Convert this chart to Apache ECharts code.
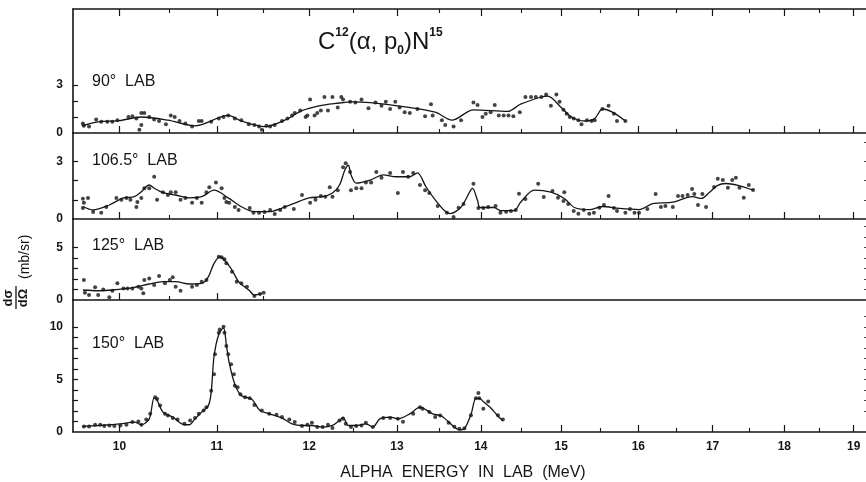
<!DOCTYPE html>
<html><head><meta charset="utf-8">
<script src="https://cdn.jsdelivr.net/npm/echarts@6/dist/echarts.min.js"></script>
<style>html,body{margin:0;padding:0;background:#fff}#c{width:866px;height:482px}</style>
</head><body><div id="c"></div>
<script>
// ---- tick labels / axis values (alpha energy, MeV) ----
const xMajorTicks = [10, 11, 12, 13, 14, 15, 16, 17, 18, 19];
const xMinorTicks = [10.5, 11.5, 12.5, 13.5, 14.5, 15.5, 16.5, 17.5, 18.5];
const xMinE = 9.544, xMaxE = 19.18;
const panelLabels = ['90°  LAB', '106.5°  LAB', '125°  LAB', '150°  LAB'];
const yLabelTicks = [[0, 3], [0, 3], [0, 5], [0, 5, 10]];
const yMinorTicks = [[1, 2, 3], [1, 2, 3], [1, 2, 3, 4, 5], [1, 2, 3, 4, 5, 6, 7, 8, 9, 10]];
const yRightTicks = [[], [1, 2, 3, 4], [1, 2, 3, 4, 5, 6, 7], [2, 3, 4, 5, 6, 7, 8, 9, 10, 11]];

// ---- 90 deg LAB ----
const curve90 = [[9.63,.45],[9.79,.7],[10.0,.77],[10.22,1.0],[10.49,.8],[10.77,.45],[11.12,1.1],[11.26,.75],[11.51,.4],[11.73,.8],[11.92,1.4],[12.11,1.7],[12.30,1.85],[12.49,1.95],[12.69,1.9],[13.07,1.65],[13.45,1.3],[13.65,.8],[13.91,1.45],[14.33,1.35],[14.49,1.8],[14.75,2.25],[14.83,2.3],[15.0,1.6],[15.13,1.0],[15.3,.75],[15.43,.9],[15.53,1.5],[15.66,1.3],[15.83,.75]];
const pts90 = [[9.64,.6],[9.65,.45],[9.70,.4],[9.77,.85],[9.82,.7],[9.88,.7],[9.93,.7],[9.98,.8],[10.09,1.0],[10.13,1.05],[10.17,.9],[10.22,1.25],[10.25,1.25],[10.22,.5],[10.20,.2],[10.30,1.0],[10.35,.85],[10.40,.75],[10.47,.55],[10.52,1.1],[10.56,1.0],[10.61,.75],[10.67,.6],[10.74,.4],[10.81,.75],[10.84,.75],[10.94,.7],[11.02,.9],[11.07,1.0],[11.12,1.1],[11.19,.9],[11.26,.8],[11.34,.55],[11.40,.5],[11.45,.4],[11.48,.2],[11.53,.45],[11.57,.4],[11.62,.5],[11.70,.75],[11.76,.9],[11.81,1.1],[11.84,1.25],[11.90,1.4],[11.96,1.0],[11.98,1.1],[12.01,2.1],[12.06,1.1],[12.09,1.25],[12.13,1.4],[12.17,2.25],[12.21,1.4],[12.26,2.25],[12.32,1.6],[12.36,2.25],[12.38,2.1],[12.46,1.95],[12.52,1.9],[12.59,2.1],[12.67,1.55],[12.75,1.9],[12.82,1.7],[12.87,1.95],[12.92,1.5],[12.98,1.95],[13.03,1.6],[13.09,1.3],[13.15,1.25],[13.24,1.5],[13.33,1.05],[13.40,1.8],[13.42,1.1],[13.53,.8],[13.57,.5],[13.67,.4],[13.76,.8],[13.91,1.9],[13.96,1.75],[14.02,1.0],[14.06,1.2],[14.12,1.3],[14.17,1.75],[14.22,1.1],[14.28,1.1],[14.34,1.1],[14.40,1.05],[14.48,1.3],[14.55,2.25],[14.62,2.25],[14.68,2.25],[14.75,2.25],[14.81,2.4],[14.87,1.7],[14.94,2.4],[14.98,1.95],[15.03,1.45],[15.07,1.2],[15.11,1.0],[15.16,.9],[15.22,.8],[15.26,.55],[15.33,.8],[15.39,.75],[15.43,.8],[15.53,1.5],[15.61,1.7],[15.68,1.2],[15.72,.75],[15.83,.75]];

// ---- 106.5 deg LAB ----
const curve106 = [[9.64,.65],[9.74,.47],[9.90,.73],[10.04,1.1],[10.15,1.16],[10.22,1.42],[10.30,1.77],[10.35,1.6],[10.44,1.37],[10.57,1.25],[10.71,1.1],[10.84,1.16],[10.97,1.5],[11.12,1.1],[11.26,.64],[11.40,.38],[11.56,.38],[11.70,.57],[11.84,.83],[12.00,1.1],[12.15,1.16],[12.26,1.35],[12.34,1.77],[12.40,2.55],[12.44,2.8],[12.47,2.3],[12.53,1.87],[12.69,2.03],[12.84,2.3],[12.99,2.2],[13.15,2.2],[13.24,2.4],[13.34,1.68],[13.45,1.0],[13.57,.4],[13.63,.28],[13.76,.62],[13.88,1.53],[13.90,1.6],[13.96,.96],[13.99,.6],[14.16,.6],[14.24,.44],[14.41,.44],[14.49,.87],[14.66,1.5],[14.87,1.4],[15.04,1.07],[15.17,.6],[15.36,.49],[15.53,.65],[15.75,.55],[16.01,.49],[16.19,.8],[16.46,.88],[16.72,1.17],[16.85,1.07],[16.94,1.33],[17.07,1.75],[17.18,1.85],[17.35,1.75],[17.56,1.5]];
const pts106 = [[9.64,1.05],[9.65,.85],[9.69,1.1],[9.64,.57],[9.74,.37],[9.82,.32],[9.87,.63],[9.97,1.1],[10.02,1.0],[10.07,1.1],[10.11,1.0],[10.17,.63],[10.18,.88],[10.22,1.1],[10.25,1.6],[10.30,1.6],[10.35,2.2],[10.38,1.0],[10.44,1.4],[10.49,1.25],[10.52,1.4],[10.57,1.4],[10.62,1.0],[10.67,1.1],[10.74,.85],[10.79,1.1],[10.84,.85],[10.89,1.4],[10.92,1.65],[10.99,1.9],[11.05,1.6],[11.08,1.1],[11.10,.88],[11.13,.85],[11.19,.63],[11.23,.47],[11.35,.57],[11.39,.32],[11.45,.32],[11.51,.37],[11.57,.47],[11.62,.26],[11.68,.47],[11.73,.63],[11.83,.52],[11.92,1.25],[12.01,.85],[12.07,1.0],[12.13,1.2],[12.18,1.16],[12.23,1.65],[12.26,1.16],[12.32,1.5],[12.38,2.7],[12.41,2.9],[12.46,2.45],[12.47,1.5],[12.53,1.6],[12.59,1.6],[12.64,1.9],[12.70,1.9],[12.76,2.45],[12.82,2.15],[12.92,2.4],[13.01,1.35],[13.07,2.45],[13.13,2.2],[13.19,2.4],[13.27,1.77],[13.33,1.5],[13.38,1.35],[13.48,.68],[13.59,.33],[13.67,.1],[13.73,.59],[13.79,.78],[13.91,1.84],[13.97,.57],[14.03,.57],[14.09,.62],[14.18,.68],[14.24,.33],[14.31,.38],[14.37,.42],[14.43,.47],[14.47,1.32],[14.55,1.04],[14.71,1.84],[14.78,1.15],[14.89,1.46],[14.96,1.11],[15.03,.94],[15.04,1.4],[15.09,.78],[15.16,.42],[15.22,.28],[15.29,.47],[15.36,.28],[15.42,.33],[15.49,.59],[15.55,.73],[15.61,1.2],[15.68,.57],[15.72,.42],[15.83,.33],[15.89,.52],[15.95,.33],[16.01,.33],[16.12,.52],[16.23,1.3],[16.30,.62],[16.36,.68],[16.46,.62],[16.53,1.2],[16.59,1.2],[16.66,1.25],[16.72,1.56],[16.75,1.3],[16.80,.73],[16.86,1.3],[16.91,.62],[17.02,1.67],[17.07,2.1],[17.14,2.03],[17.21,1.63],[17.27,2.03],[17.32,2.15],[17.37,1.63],[17.43,1.11],[17.50,1.77],[17.56,1.51]];

// ---- 125 deg LAB ----
const curve125 = [[9.64,.95],[9.79,.88],[9.93,.95],[10.15,1.2],[10.30,1.52],[10.44,1.74],[10.57,1.74],[10.71,1.52],[10.84,1.58],[10.91,2.2],[10.97,3.48],[11.03,4.1],[11.08,3.8],[11.16,2.85],[11.23,1.74],[11.34,.95],[11.40,.47],[11.48,.63]];
const pts125 = [[9.65,1.9],[9.66,.7],[9.70,.47],[9.76,1.2],[9.79,.47],[9.84,1.0],[9.90,.25],[9.93,.88],[9.98,1.58],[10.04,1.1],[10.08,1.1],[10.13,1.1],[10.19,1.26],[10.22,1.1],[10.24,.63],[10.25,1.9],[10.30,2.05],[10.35,1.42],[10.40,2.28],[10.46,1.58],[10.51,1.9],[10.54,2.15],[10.57,1.26],[10.62,.88],[10.74,1.26],[10.79,1.42],[10.84,1.74],[10.89,1.9],[11.02,4.1],[11.05,4.05],[11.08,3.86],[11.10,3.48],[11.16,2.69],[11.21,1.74],[11.26,1.58],[11.32,1.26],[11.40,.38],[11.46,.57],[11.50,.7]];

// ---- 150 deg LAB ----
const curve150 = [[9.64,.53],[9.79,.62],[10.01,.78],[10.15,.94],[10.22,.69],[10.30,1.25],[10.35,3.25],[10.38,3.0],[10.44,1.89],[10.54,1.42],[10.66,.69],[10.71,.69],[10.77,1.25],[10.84,1.89],[10.91,2.51],[10.94,3.77],[10.97,7.2],[11.02,9.3],[11.07,9.9],[11.10,8.3],[11.13,6.6],[11.19,4.55],[11.26,3.45],[11.37,3.14],[11.46,2.04],[11.56,1.73],[11.70,1.32],[11.81,.78],[11.92,.62],[12.03,.62],[12.15,.47],[12.26,.62],[12.34,1.1],[12.38,1.42],[12.44,.62],[12.53,.62],[12.64,.78],[12.72,.47],[12.80,1.25],[12.92,1.42],[13.01,1.25],[13.15,1.73],[13.27,2.36],[13.42,1.73],[13.53,1.5],[13.68,.45],[13.74,.2],[13.80,.3],[13.88,1.66],[13.94,3.2],[13.98,3.2],[14.03,2.9],[14.12,2.3],[14.21,1.5],[14.27,1.1]];
const pts150 = [[9.65,.53],[9.70,.53],[9.76,.69],[9.81,.69],[9.85,.57],[9.90,.62],[9.95,.57],[10.01,.62],[10.07,.69],[10.13,.94],[10.19,1.0],[10.22,.69],[10.27,1.19],[10.31,1.73],[10.36,3.3],[10.38,3.14],[10.41,2.51],[10.46,1.73],[10.49,1.57],[10.54,1.32],[10.59,1.19],[10.66,.78],[10.72,1.1],[10.77,1.32],[10.81,1.73],[10.86,2.04],[10.89,2.36],[10.94,3.92],[10.97,5.5],[10.98,7.4],[11.02,9.43],[11.03,9.75],[11.07,10.0],[11.08,9.43],[11.10,8.17],[11.12,7.4],[11.15,6.44],[11.18,5.5],[11.19,4.4],[11.22,4.25],[11.25,3.6],[11.30,3.3],[11.35,3.2],[11.40,2.57],[11.48,2.04],[11.56,1.73],[11.64,1.63],[11.70,1.42],[11.78,1.19],[11.84,.94],[11.92,.57],[11.98,.69],[12.03,.88],[12.09,.47],[12.15,.47],[12.21,.69],[12.26,.38],[12.34,1.1],[12.38,1.25],[12.41,.78],[12.47,.47],[12.53,.57],[12.59,.62],[12.64,.88],[12.72,.47],[12.84,1.32],[12.92,1.32],[13.01,1.25],[13.07,.97],[13.19,1.73],[13.27,2.36],[13.30,2.2],[13.38,1.89],[13.45,1.42],[13.51,1.57],[13.61,.88],[13.68,.5],[13.74,.3],[13.80,.35],[13.88,1.6],[13.94,3.2],[13.97,3.7],[13.98,3.2],[14.03,2.2],[14.09,2.9],[14.21,1.6],[14.27,1.2]];

const curves = [curve90, curve106, curve125, curve150];
const points = [pts90, pts106, pts125, pts150];

// ---- layout (pixels) ----
const gridTops = [9, 133, 219, 300];
const gridHeights = [124, 86, 81, 132];
const yMaxes = [7.75, 4.48, 7.69, 12.55];
const labelTops = [83, 162, 247, 345];

// energy axis drawn on a E^0.4 scale as in the original figure
const T = e => Math.pow(e, 0.4);
const Tinv = t => Math.pow(t, 2.5);
const INK = '#151515';
const FONT = '"Liberation Sans", Arial, sans-serif';

const grids = [], xAxes = [], yAxes = [], series = [];
for (let g = 0; g < 4; g++) {
  grids.push({ left: 73, right: 0, top: gridTops[g], height: gridHeights[g], containLabel: false });
  const majors = g === 2 ? [10, 11] : xMajorTicks;
  const minors = g === 2 ? [10.5, 11.5] : xMinorTicks;
  xAxes.push({
    type: 'value', gridIndex: g, position: 'bottom', min: T(xMinE), max: T(xMaxE),
    axisLine: { show: true, onZero: false, lineStyle: { color: INK, width: 1.6 } },
    axisTick: { show: true, inside: true, length: 7, customValues: majors.map(T), lineStyle: { color: INK, width: 1.2 } },
    axisLabel: { show: g === 3, customValues: xMajorTicks.map(T), formatter: v => String(Math.round(Tinv(v))),
      color: INK, fontFamily: FONT, fontWeight: 'bold', fontSize: 12, margin: 9 },
    splitLine: { show: false }
  });
  xAxes.push({
    type: 'value', gridIndex: g, position: 'bottom', min: T(xMinE), max: T(xMaxE),
    axisLine: { show: false, onZero: false },
    axisTick: { show: true, inside: true, length: 4, customValues: minors.map(T), lineStyle: { color: INK, width: 1.1 } },
    axisLabel: { show: false }, splitLine: { show: false }
  });
  yAxes.push({
    type: 'value', gridIndex: g, position: 'left', min: 0, max: yMaxes[g],
    axisLine: { show: true, lineStyle: { color: INK, width: 1.6 } },
    axisTick: { show: true, inside: true, length: 5, customValues: yMinorTicks[g], lineStyle: { color: INK, width: 1.2 } },
    axisLabel: { show: true, customValues: yLabelTicks[g], color: INK, fontFamily: FONT, fontWeight: 'bold', fontSize: 12, margin: 10 },
    splitLine: { show: false }
  });
}
// top border of first panel
xAxes.push({
  type: 'value', gridIndex: 0, position: 'top', min: T(xMinE), max: T(xMaxE),
  axisLine: { show: true, onZero: false, lineStyle: { color: INK, width: 1.6 } },
  axisTick: { show: true, inside: true, length: 7, customValues: xMajorTicks.map(T), lineStyle: { color: INK, width: 1.2 } },
  axisLabel: { show: false }, splitLine: { show: false }
});
xAxes.push({
  type: 'value', gridIndex: 0, position: 'top', min: T(xMinE), max: T(xMaxE),
  axisLine: { show: false, onZero: false },
  axisTick: { show: true, inside: true, length: 4, customValues: xMinorTicks.map(T), lineStyle: { color: INK, width: 1.1 } },
  axisLabel: { show: false }, splitLine: { show: false }
});
// dotted right edge
for (let g = 0; g < 4; g++) {
  yAxes.push({
    type: 'value', gridIndex: g, position: 'right', min: 0, max: yMaxes[g],
    axisLine: { show: false },
    axisTick: { show: yRightTicks[g].length > 0, inside: true, length: 2, customValues: yRightTicks[g], lineStyle: { color: '#444', width: 1 } },
    axisLabel: { show: false }, splitLine: { show: false }
  });
}

for (let g = 0; g < 4; g++) {
  series.push({
    type: 'line', xAxisIndex: 2 * g, yAxisIndex: g,
    data: curves[g].map(([e, v]) => [T(e), v]),
    smooth: 0.3, showSymbol: false, symbol: 'none',
    lineStyle: { color: INK, width: 1.3 }, silent: true, z: 2
  });
  series.push({
    type: 'scatter', xAxisIndex: 2 * g, yAxisIndex: g,
    data: points[g].map(([e, v]) => [T(e), v]),
    symbol: 'circle', symbolSize: 4, itemStyle: { color: INK }, silent: true, z: 3
  });
}

const graphic = [
  { type: 'text', left: 318, top: 27, style: {
      text: '{m|C}{s|12}{m|(α, p}{b|0}{m|)N}{s|15}', fill: INK,
      rich: {
        m: { fontSize: 24, fontFamily: FONT, lineHeight: 30, fill: INK },
        s: { fontSize: 12, fontFamily: FONT, fontWeight: 'bold', lineHeight: 14, verticalAlign: 'top', fill: INK },
        b: { fontSize: 12, fontFamily: FONT, fontWeight: 'bold', lineHeight: 14, verticalAlign: 'bottom', fill: INK }
      } } },
  { type: 'text', x: 463, y: 473, style: { text: 'ALPHA  ENERGY  IN  LAB  (MeV)', fill: INK, fontFamily: FONT, fontSize: 16, align: 'center', verticalAlign: 'middle' } },
  { type: 'group', x: 16, y: 312, rotation: Math.PI / 2, children: [
      { type: 'text', x: 14, y: -1, style: { text: 'dσ', fill: INK, fontFamily: FONT, fontSize: 13, fontWeight: 'bold', align: 'center', verticalAlign: 'bottom' } },
      { type: 'line', shape: { x1: 3, y1: 0, x2: 26, y2: 0 }, style: { stroke: INK, lineWidth: 1.3 } },
      { type: 'text', x: 14, y: 1, style: { text: 'dΩ', fill: INK, fontFamily: FONT, fontSize: 13, fontWeight: 'bold', align: 'center', verticalAlign: 'top' } },
      { type: 'text', x: 33, y: 9, style: { text: '(mb/sr)', fill: INK, fontFamily: FONT, fontSize: 14, align: 'left', verticalAlign: 'middle' } }
  ] }
];
for (let g = 0; g < 4; g++) {
  graphic.push({ type: 'text', left: 92, top: labelTops[g] - 9, style: { text: panelLabels[g], fill: INK, fontFamily: FONT, fontSize: 16 } });
}

const chart = echarts.init(document.getElementById('c'), null, { renderer: 'canvas' });
chart.setOption({
  animation: false,
  backgroundColor: '#ffffff',
  grid: grids, xAxis: xAxes, yAxis: yAxes, series: series, graphic: graphic
});
</script></body></html>
